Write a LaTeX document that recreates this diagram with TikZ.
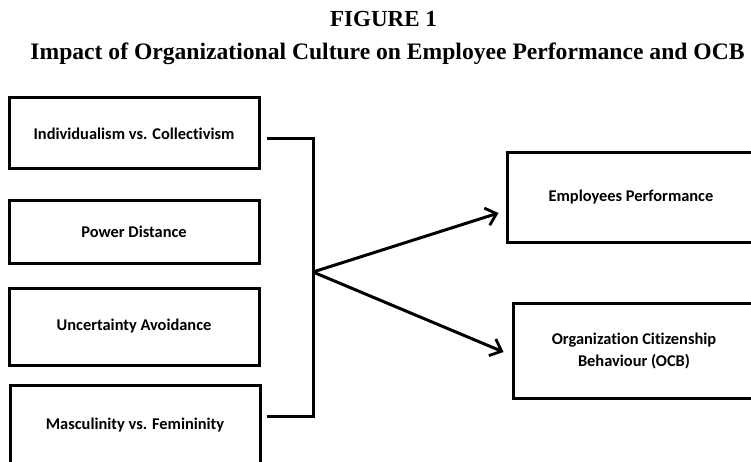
\documentclass[tikz,border=0pt]{standalone}
\usepackage{fontspec}
\setmainfont{Liberation Serif}
\newfontfamily\boxfont[Ligatures=NoCommon]{Carlito}
\usetikzlibrary{arrows.meta}

\tikzset{
  factor/.style={draw, line width=3pt, minimum width=250pt, inner sep=0pt,
    font=\boxfont\bfseries\fontsize{16.4}{20}\selectfont, align=center},
  link/.style={line width=3pt},
  effect/.style={link, -{Straight Barb[length=10pt,width=18pt,line width=2.8pt]}}
}

\begin{document}
\begin{tikzpicture}[x=1pt,y=-1pt]
\useasboundingbox (0,0) rectangle (751,462);
\clip (0,0) rectangle (751,462);

% title
\node[anchor=base, inner sep=0pt] (fig) at (383.5,27) {\bfseries\fontsize{23}{27}\selectfont FIGURE 1};
\node[anchor=base, inner sep=0pt] (ttl) at (387.5,60) {\bfseries\fontsize{23.6}{28}\selectfont Impact of Organizational Culture on Employee Performance and OCB};

% cultural dimensions
\node[factor, minimum height=71pt] (b1) at (134,133.5) {Individualism vs. Collectivism};
\node[factor, minimum height=62pt] (b2) at (134,232) {Power Distance};
\node[factor, minimum height=77pt] (b3) at (134,326.5) {Uncertainty Avoidance};
\node[factor, minimum height=80pt] (b4) at (135,425) {Masculinity vs. Femininity};

% outcomes
\node[factor, minimum width=248pt, minimum height=89pt] (emp) at (631,197.5) {Employees Performance};
\node[factor, minimum width=242pt, minimum height=95pt] (ocb) at (634,350.5) {Organization Citizenship\\[2pt] Behaviour (OCB)};

% bracket and arrows
\coordinate (top) at (313,139);
\coordinate (bot) at (313,416);
\coordinate (hub) at (313,272);
\draw[link] ([xshift=6pt,yshift=-5.5pt]b1.east) -- (top) -- (bot) -- ([xshift=5pt,yshift=9pt]b4.east);
\draw[effect] (hub) -- ([shift={(-7pt,-15.5pt)}]emp.west);
\draw[effect] (hub) -- ([shift={(-8pt,-1.5pt)}]ocb.west);
\end{tikzpicture}
\end{document}
